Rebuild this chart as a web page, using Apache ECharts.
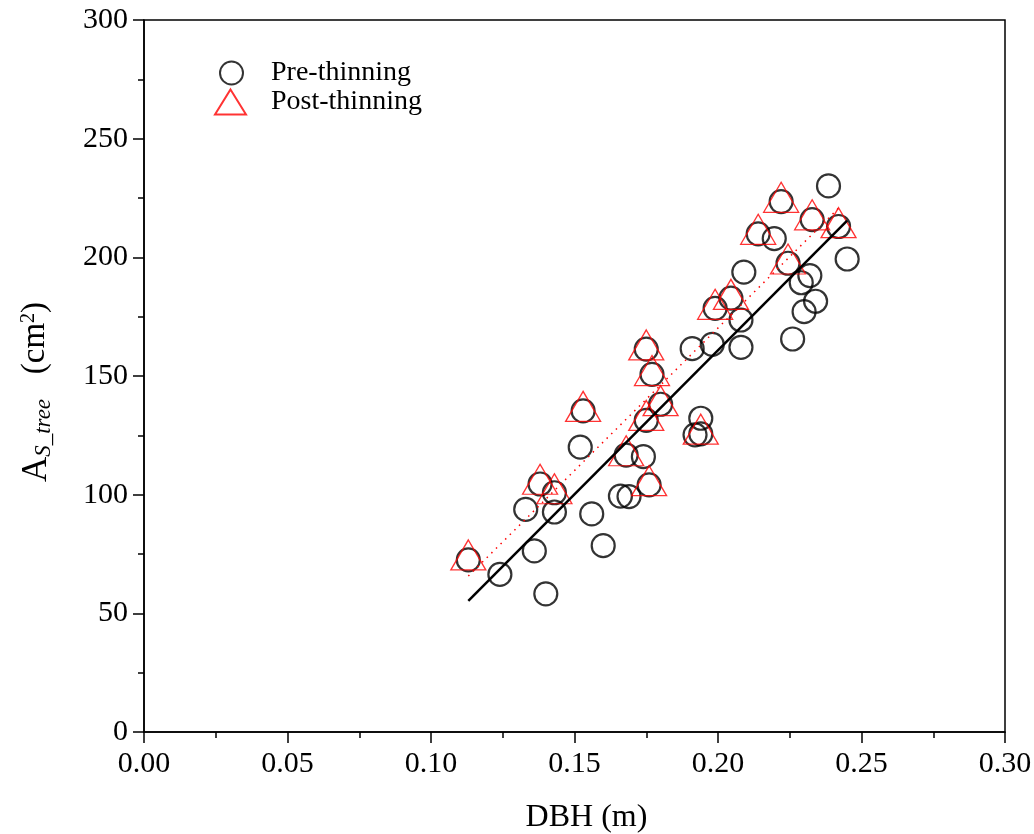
<!DOCTYPE html>
<html>
<head>
<meta charset="utf-8">
<script src="https://cdn.jsdelivr.net/npm/echarts@6/dist/echarts.min.js"></script>
<style>
  html, body { margin: 0; padding: 0; background: #fff; }
  #chart { width: 1034px; height: 834px; }
</style>
</head>
<body>
<div id="chart"></div>
<script>
// 数据
const preX = [0.113, 0.124, 0.136, 0.133, 0.138, 0.140, 0.143, 0.143, 0.152, 0.153, 0.156, 0.160, 0.166, 0.169, 0.168, 0.174, 0.175, 0.176, 0.175, 0.177, 0.180, 0.191, 0.192, 0.194, 0.194, 0.198, 0.199, 0.2045, 0.208, 0.208, 0.209, 0.214, 0.2196, 0.222, 0.2244, 0.226, 0.229, 0.230, 0.232, 0.2328, 0.234, 0.2385, 0.242, 0.245]
const preY = [72.5, 66.4, 76.3, 93.8, 104.5, 58.2, 92.7, 100.8, 120.0, 135.3, 91.9, 78.5, 99.4, 99.2, 116.7, 116.0, 131.3, 104.1, 161.3, 150.7, 138.1, 161.5, 125.2, 125.6, 132.2, 163.3, 178.5, 182.8, 173.6, 162.1, 193.8, 209.9, 207.9, 223.5, 197.5, 165.6, 189.3, 177.1, 192.3, 215.9, 181.5, 230.1, 213.0, 199.3]
const postX = [0.113, 0.138, 0.143, 0.153, 0.168, 0.176, 0.175, 0.177, 0.175, 0.180, 0.194, 0.199, 0.2045, 0.214, 0.222, 0.2244, 0.2328, 0.242]
const postY = [74.6, 106.5, 102.5, 137.2, 118.5, 105.9, 133.4, 152.3, 163.1, 139.6, 127.6, 180.2, 184.4, 211.8, 225.3, 199.3, 217.9, 214.6]

// 拟合线端点
const preFitX = [0.113, 0.245]
const preFitY = [55.2, 215.5]
const postFitX = [0.113, 0.242]
const postFitY = [65.7, 220.7]

const xTickLabels = ['0.00', '0.05', '0.10', '0.15', '0.20', '0.25', '0.30']
const yTickLabels = ['0', '50', '100', '150', '200', '250', '300']

const FONT = '"Liberation Serif", "Times New Roman", serif'

const zip = (xs, ys) => xs.map((x, i) => [x, ys[i]])

const chart = echarts.init(document.getElementById('chart'))

chart.setOption({
  backgroundColor: '#fff',
  animation: false,
  grid: {
    left: 144,
    right: 29,
    top: 20,
    bottom: 102,
    outerBoundsMode: 'none',
    show: true,
    borderColor: '#000',
    borderWidth: 1.5
  },
  legend: [
    {
      data: ['Pre-thinning'],
      left: 214,
      top: 54,
      itemWidth: 23,
      itemHeight: 23,
      textStyle: { fontFamily: FONT, fontSize: 28, color: '#000', padding: [0, 0, 0, 23] }
    },
    {
      data: ['Post-thinning'],
      left: 209,
      top: 83,
      itemWidth: 31,
      itemHeight: 25,
      textStyle: { fontFamily: FONT, fontSize: 28, color: '#000', padding: [0, 0, 0, 20] }
    }
  ],
  xAxis: {
    type: 'value',
    min: 0,
    max: 0.3,
    interval: 0.05,
    name: 'DBH (m)',
    nameLocation: 'middle',
    nameGap: 70,
    nameTextStyle: { fontFamily: FONT, fontSize: 32, color: '#000', padding: [0, 0, 0, 24] },
    axisLine: { lineStyle: { color: '#000', width: 1.5 } },
    axisTick: { length: 11, lineStyle: { width: 1.5 } },
    minorTick: { show: true, splitNumber: 2, length: 6, lineStyle: { color: '#000', width: 1.5 } },
    splitLine: { show: false },
    axisLabel: {
      fontFamily: FONT,
      fontSize: 30,
      color: '#000',
      margin: 17,
      formatter: (v, i) => xTickLabels[i]
    }
  },
  yAxis: {
    type: 'value',
    min: 0,
    max: 300,
    interval: 50,
    axisLine: { lineStyle: { color: '#000', width: 1.5 } },
    axisTick: { length: 11, lineStyle: { width: 1.5 } },
    minorTick: { show: true, splitNumber: 2, length: 6, lineStyle: { color: '#000', width: 1.5 } },
    splitLine: { show: false },
    axisLabel: {
      fontFamily: FONT,
      fontSize: 30,
      color: '#000',
      margin: 16,
      formatter: (v, i) => yTickLabels[i]
    }
  },
  graphic: [
    {
      type: 'text',
      x: 37,
      y: 392,
      rotation: Math.PI / 2,
      style: {
        text: '{a|A}{s|S_tree}{b|   (cm}{p|2}{b|)}',
        align: 'center',
        verticalAlign: 'middle',
        fill: '#000',
        rich: {
          a: { fontFamily: FONT, fontSize: 35, lineHeight: 36, verticalAlign: 'top' },
          s: { fontFamily: FONT, fontSize: 23, fontStyle: 'italic', lineHeight: 23, verticalAlign: 'bottom' },
          b: { fontFamily: FONT, fontSize: 33, lineHeight: 36, verticalAlign: 'top' },
          p: { fontFamily: FONT, fontSize: 20, lineHeight: 20, verticalAlign: 'top' }
        },
        lineHeight: 46
      }
    }
  ],
  series: [
    {
      name: 'Pre-thinning',
      type: 'scatter',
      symbol: 'circle',
      symbolSize: 23,
      data: zip(preX, preY),
      itemStyle: { color: 'rgba(0,0,0,0)', borderColor: '#000', borderWidth: 2.2 },
      z: 2
    },
    {
      name: 'Post-thinning',
      type: 'scatter',
      symbol: 'triangle',
      symbolSize: [35, 30],
      data: zip(postX, postY),
      itemStyle: { color: 'rgba(0,0,0,0)', borderColor: '#ff0000', borderWidth: 1.3 },
      z: 3
    },
    {
      name: 'preFit',
      type: 'line',
      data: zip(preFitX, preFitY),
      showSymbol: false,
      lineStyle: { color: '#000', width: 2.5 },
      z: 4
    },
    {
      name: 'postFit',
      type: 'line',
      data: zip(postFitX, postFitY),
      showSymbol: false,
      lineStyle: { color: '#ff0000', width: 1.5, type: [1.5, 5] },
      z: 4
    }
  ]
})
</script>
</body>
</html>
